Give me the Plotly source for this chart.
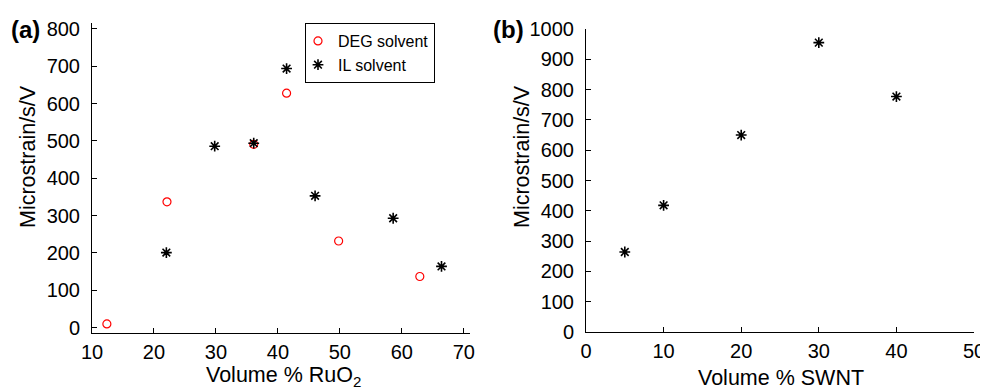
import plotly.graph_objects as go

# Panel (a) data
deg_x = [12.4, 22.1, 36.1, 41.4, 49.8, 62.9]
deg_y = [10, 337, 491, 628, 232, 137]
il_x = [22.0, 29.8, 36.1, 41.4, 46.0, 58.6, 66.4]
il_y = [201, 486, 494, 694, 353, 293, 164]

# Panel (b) data
swnt_x = [5, 10, 20, 30, 40]
swnt_y = [264, 418, 650, 955, 777]

# page is 988x391; the html body has an 8px margin, so the figure is offset
OFF = 8
W, H = 988 - OFF, 391 - OFF
FONT = "Liberation Sans, Arial, Helvetica, sans-serif"

def fx(px):
    return (px - OFF) / W

def fy(py):
    return (H - (py - OFF)) / H

fig = go.Figure()

fig.add_trace(go.Scatter(x=deg_x, y=deg_y, mode="markers", name="DEG solvent",
                         marker=dict(symbol="circle-open", size=8, color="red",
                                     line=dict(color="red", width=1.2)),
                         xaxis="x", yaxis="y"))
fig.add_trace(go.Scatter(x=il_x, y=il_y, mode="markers", name="IL solvent",
                         marker=dict(symbol="asterisk-open", size=9, color="black",
                                     line=dict(color="black", width=1.6)),
                         xaxis="x", yaxis="y"))
fig.add_trace(go.Scatter(x=swnt_x, y=swnt_y, mode="markers", name="SWNT",
                         showlegend=False,
                         marker=dict(symbol="asterisk-open", size=9, color="black",
                                     line=dict(color="black", width=1.6)),
                         xaxis="x2", yaxis="y2"))

axis_common = dict(showline=True, linecolor="black", linewidth=1, ticks="inside",
                   ticklen=5, tickwidth=1, tickcolor="black", showgrid=False,
                   zeroline=False, tickfont=dict(family=FONT, size=20, color="black"),
                   mirror=False, automargin=False)

fig.update_layout(
    template="none",
    width=W, height=H,
    margin=dict(l=0, r=0, t=0, b=0, pad=0, autoexpand=False),
    paper_bgcolor="white", plot_bgcolor="white",
    font=dict(family=FONT, color="black"),
    xaxis=dict(domain=[fx(92), fx(470)], range=[10, 71], tickvals=[10, 20, 30, 40, 50, 60, 70],
               anchor="y", ticklabelstandoff=1, **axis_common),
    yaxis=dict(domain=[fy(333), fy(23)], range=[-14.4, 816], tickvals=[0, 100, 200, 300, 400, 500, 600, 700, 800],
               anchor="x", ticklabelstandoff=7, **axis_common),
    xaxis2=dict(domain=[fx(586), fx(974)], range=[0, 50], tickvals=[0, 10, 20, 30, 40, 50],
                anchor="y2", ticklabelstandoff=1, **axis_common),
    yaxis2=dict(domain=[fy(332), fy(29)], range=[0, 1000], tickvals=list(range(0, 1001, 100)),
                anchor="x2", ticklabelstandoff=7, **axis_common),
    legend=dict(x=fx(305), y=fy(23), xanchor="left", yanchor="top",
                bordercolor="black", borderwidth=1, bgcolor="white",
                font=dict(family=FONT, size=16, color="black"),
                itemwidth=30, tracegroupgap=0, indentation=-8),
    showlegend=True,
)

ann = [
    dict(text="Microstrain/s/V", x=fx(28), y=fy(157), textangle=-90, size=21.5),
    dict(text="Microstrain/s/V", x=fx(522), y=fy(157), textangle=-90, size=21.5),
    dict(text="Volume % RuO<sub>2</sub>", x=fx(283), y=fy(376), textangle=0, size=21.5),
    dict(text="Volume % SWNT", x=fx(781), y=fy(378), textangle=0, size=21.5),
    dict(text="<b>(a)</b>", x=fx(25), y=fy(29), textangle=0, size=24),
    dict(text="<b>(b)</b>", x=fx(508), y=fy(30), textangle=0, size=24),
]
for a in ann:
    fig.add_annotation(text=a["text"], x=a["x"], y=a["y"], xref="paper", yref="paper",
                       xanchor="center", yanchor="middle", showarrow=False,
                       textangle=a["textangle"],
                       font=dict(family=FONT, size=a["size"], color="black"))

fig.write_html("out.html")
